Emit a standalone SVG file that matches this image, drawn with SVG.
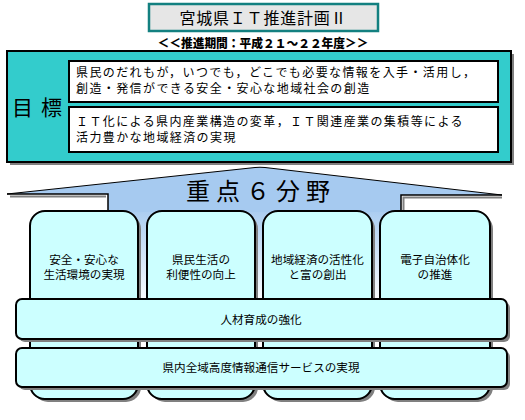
<svg xmlns="http://www.w3.org/2000/svg" width="525" height="420" viewBox="0 0 525 420">
<defs>
<linearGradient id="fade" gradientUnits="userSpaceOnUse" x1="0" y1="205" x2="0" y2="305">
<stop offset="0" stop-color="#a6caf0"/>
<stop offset="1" stop-color="#ffffff"/>
</linearGradient>
</defs>
<style>
text{font-family:"Noto Sans CJK JP","Noto Sans",sans-serif;fill:#000}
.goal{font-size:12px;letter-spacing:1.4px}
.lbl{font-size:11.6px;text-anchor:middle}
.box{fill:#ccffff;stroke:#000;stroke-width:2}
.sh{fill:#808080}
</style>
<rect width="525" height="420" fill="#fff"/>
<g id="title">
<rect x="149" y="4" width="229" height="27" fill="#e6e6e6" stroke="#138080" stroke-width="2.5"/>
<text x="263" y="24" font-size="16" text-anchor="middle" textLength="167" lengthAdjust="spacing">宮城県ＩＴ推進計画Ⅱ</text>
</g>
<g id="period">
<text x="263" y="47.5" font-size="12" font-weight="900" text-anchor="middle" textLength="211" lengthAdjust="spacingAndGlyphs">＜＜推進期間：平成２１～２２年度＞＞</text>
</g>
<g id="goals">
<rect class="sh" x="10" y="54" width="504" height="111"/>
<rect x="7" y="51" width="504" height="111" fill="#33cccc" stroke="#000" stroke-width="2"/>
<text y="114.5" font-size="21"><tspan x="12">目</tspan><tspan x="41">標</tspan></text>
<g id="goal1">
<rect x="69" y="61" width="429" height="41" fill="#fff" stroke="#000" stroke-width="2"/>
<text class="goal"><tspan x="76" y="77">県民のだれもが，いつでも，どこでも必要な情報を入手・活用し，</tspan><tspan x="76" y="92.5">創造・発信ができる安全・安心な地域社会の創造</tspan></text>
</g>
<g id="goal2">
<rect x="69" y="107" width="429" height="45" fill="#fff" stroke="#000" stroke-width="2"/>
<text class="goal"><tspan x="76" y="126">ＩＴ化による県内産業構造の変革，ＩＴ関連産業の集積等による</tspan><tspan x="76" y="141.5">活力豊かな地域経済の実現</tspan></text>
</g>
</g>
<g id="connectors">
<g id="arrow">
<rect x="108" y="205" width="293" height="110" fill="url(#fade)"/>
<path d="M7,194 L255,167.5 Q260,167 265,167.5 L502,195 L401,195 L401,212 L108,212 L108,194 Z" fill="#a6caf0"/>
<path d="M7,194 L255,167.5 Q260,167 265,167.5 L502,195" fill="none" stroke="#000" stroke-width="1"/>
<path d="M10,196.5 H106" stroke="#808080" stroke-width="2" fill="none"/>
<path d="M403.5,212 V197.5 H502" stroke="#808080" stroke-width="2" fill="none"/>
<path d="M7,194 H108 V212" stroke="#000" stroke-width="1.5" fill="none"/>
<path d="M502,195 H401 V212" stroke="#000" stroke-width="1.5" fill="none"/>
<text x="186" y="199.5" font-size="24" letter-spacing="6">重点６分野</text>
</g>
</g>
<g id="field1">
<rect class="sh" x="33" y="214" width="108" height="188" rx="15"/>
<rect class="box" x="30" y="211" width="108" height="188" rx="15"/>
<text class="lbl"><tspan x="84" y="263.5">安全・安心な</tspan><tspan x="84" y="279">生活環境の実現</tspan></text>
</g>
<g id="field2">
<rect class="sh" x="150" y="214" width="108" height="188" rx="15"/>
<rect class="box" x="147" y="211" width="108" height="188" rx="15"/>
<text class="lbl"><tspan x="201" y="263.5">県民生活の</tspan><tspan x="201" y="279">利便性の向上</tspan></text>
</g>
<g id="field3">
<rect class="sh" x="266" y="214" width="109" height="188" rx="15"/>
<rect class="box" x="263" y="211" width="109" height="188" rx="15"/>
<text class="lbl"><tspan x="317.5" y="263.5">地域経済の活性化</tspan><tspan x="317.5" y="279">と富の創出</tspan></text>
</g>
<g id="field4">
<rect class="sh" x="383" y="214" width="110" height="188" rx="15"/>
<rect class="box" x="380" y="211" width="110" height="188" rx="15"/>
<text class="lbl"><tspan x="435" y="263.5">電子自治体化</tspan><tspan x="435" y="279">の推進</tspan></text>
</g>
<g id="hr">
<rect class="sh" x="19" y="302" width="491" height="40" rx="6"/>
<rect class="box" x="16" y="299" width="491" height="40" rx="6"/>
<text class="lbl" x="261" y="323.5">人材育成の強化</text>
</g>
<g id="infra">
<rect class="sh" x="19" y="351" width="491" height="39" rx="6"/>
<rect class="box" x="16" y="348" width="491" height="39" rx="6"/>
<text class="lbl" x="261" y="371.5">県内全域高度情報通信サービスの実現</text>
</g>
</svg>
